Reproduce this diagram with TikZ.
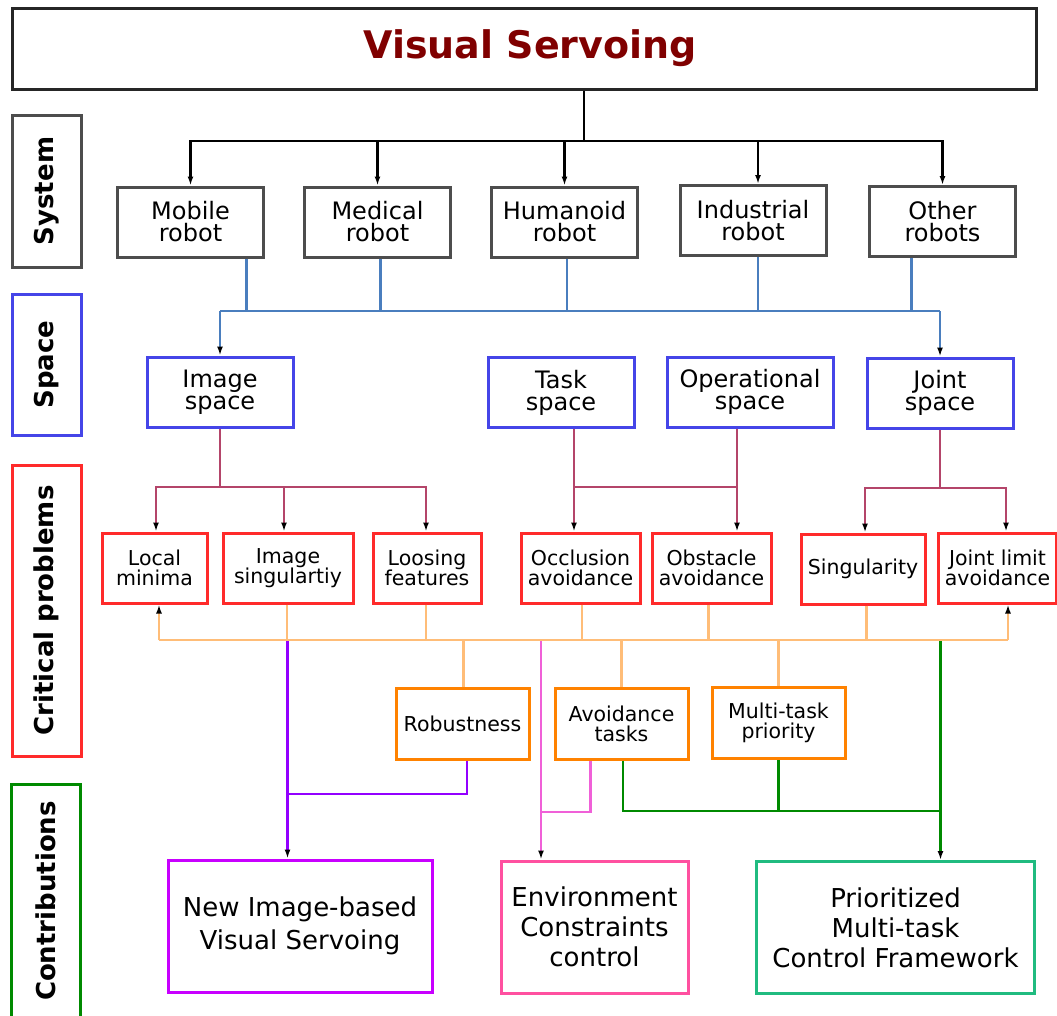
\documentclass[tikz,border=0pt]{standalone}
\usepackage{fontspec}
\setmainfont{DejaVu Sans}
\usetikzlibrary{arrows.meta}
\definecolor{titlered}{HTML}{800000}
\definecolor{sysgray}{HTML}{4D4D4D}
\definecolor{spblue}{HTML}{4545E8}
\definecolor{lnblue}{HTML}{4A7EBE}
\definecolor{lnred}{HTML}{B4456A}
\definecolor{cpred}{HTML}{FF2A2A}
\definecolor{lnorange}{HTML}{FFBD78}
\definecolor{bxorange}{HTML}{FF8200}
\definecolor{lnpurple}{HTML}{9300FF}
\definecolor{bxpurple}{HTML}{C800FF}
\definecolor{lnpink}{HTML}{F060D8}
\definecolor{bxpink}{HTML}{FF50A0}
\definecolor{lngreen}{HTML}{008A00}
\definecolor{bxgreen}{HTML}{20BB80}
\tikzset{
  box/.style={draw, fill=white, line width=3pt, align=center, inner sep=0pt, text=black},
  sidelab/.style={box, rotate=90, minimum height=69pt, font=\fontsize{26}{30}\selectfont\bfseries},
  robotbox/.style={box, draw=sysgray, minimum width=146pt, minimum height=70pt, font=\fontsize{24}{22}\selectfont},
  spacebox/.style={box, draw=spblue, minimum height=70pt, font=\fontsize{24}{22}\selectfont},
  probbox/.style={box, draw=cpred, minimum height=70pt, font=\fontsize{20.5}{20}\selectfont},
  featbox/.style={box, draw=bxorange, minimum height=71pt, font=\fontsize{20.5}{20}\selectfont},
  contbox/.style={box, minimum height=132pt, font=\fontsize{26}{30}\selectfont},
  tip/.style={-{Latex[length=9pt,width=6pt,black]}},
  cblack/.style={draw=black, line width=2.8pt},
  cblue/.style={draw=lnblue, line width=2.8pt},
  cred/.style={draw=lnred, line width=2.8pt},
  corange/.style={draw=lnorange, line width=2.8pt},
  cpurple/.style={draw=lnpurple, line width=2.8pt},
  cpink/.style={draw=lnpink, line width=2.8pt},
  cgreen/.style={draw=lngreen, line width=2.8pt},
}
\begin{document}
\begin{tikzpicture}[x=1pt, y=-1pt]
\useasboundingbox[fill=white] (0,0) rectangle (1057,1015);

% title
\node[box, draw=black!85, minimum width=1024pt, minimum height=81pt,
      font=\fontsize{38}{40}\selectfont\bfseries, text=titlered] (title) at (524,48.5) {\hspace*{12pt}Visual Servoing};

% side labels
\node[sidelab, draw=sysgray, minimum width=152pt] (lsys) at (47,191) {System};
\node[sidelab, draw=spblue, minimum width=141pt] (lspace) at (46.5,364.5) {Space};
\node[sidelab, draw=cpred, minimum width=291pt] (lcrit) at (46.5,610.5) {Critical problems};
\node[sidelab, draw=lngreen, minimum width=234pt] (lcont) at (45.5,901) {Contributions};

% robots
\node[robotbox] (mobile) at (190.5,222) {Mobile\\robot};
\node[robotbox] (medical) at (377.5,222) {Medical\\robot};
\node[robotbox] (humanoid) at (564.5,222) {Humanoid\\robot};
\node[robotbox] (industrial) at (753,220.5) {Industrial\\robot};
\node[robotbox] (other) at (942.5,221.5) {Other\\robots};

% spaces
\node[spacebox, minimum width=146pt] (image) at (220,392) {Image\\space};
\node[spacebox, minimum width=146pt] (task) at (561,392.5) {Task\\space};
\node[spacebox, minimum width=166pt] (oper) at (750,392) {Operational\\space};
\node[spacebox, minimum width=146pt] (joint) at (940,393) {Joint\\space};

% problems
\node[probbox, minimum width=105pt] (localmin) at (154.5,568) {Local\\minima};
\node[probbox, minimum width=130pt] (imgsing) at (288,568) {Image\\singulartiy};
\node[probbox, minimum width=108pt] (loosing) at (427,568) {Loosing\\features};
\node[probbox, minimum width=119pt] (occl) at (580.5,568) {Occlusion\\avoidance};
\node[probbox, minimum width=119pt] (obst) at (711.5,568) {Obstacle\\avoidance};
\node[probbox, minimum width=124pt] (sing) at (863,569) {Singularity};
\node[probbox, minimum width=118pt] (jlimit) at (997.5,568) {Joint limit\\avoidance};

% features
\node[featbox, minimum width=133pt] (robust) at (462.5,723.5) {Robustness};
\node[featbox, minimum width=133pt] (avoid) at (621.5,723.5) {Avoidance\\tasks};
\node[featbox, minimum width=133pt] (multi) at (778.5,723) {Multi-task\\priority};

% contributions
\node[contbox, draw=bxpurple, minimum width=264pt, font=\fontsize{26}{33}\selectfont] (newivs) at (300,926) {New Image-based\\Visual Servoing};
\node[contbox, draw=bxpink, minimum width=187pt] (env) at (594.5,927) {Environment\\Constraints\\control};
\node[contbox, draw=bxgreen, minimum width=278pt] (prior) at (895.5,927.5) {Prioritized\\Multi-task\\Control Framework};

% ---- black tree
\coordinate (kbus) at (584,141);
\draw[cblack] ([xshift=60pt]title.south) -- (kbus);
\draw[cblack, tip] (kbus) -| (mobile.north);
\draw[cblack, tip] (kbus) -| (medical.north);
\draw[cblack, tip] (kbus) -| (humanoid.north);
\draw[cblack, tip] (kbus) -| ([xshift=5pt]industrial.north);
\draw[cblack, tip] (kbus) -| (other.north);

% ---- blue tree
\coordinate (bL) at (220,311);
\coordinate (bR) at (940,311);
\draw[cblue] (bL) -- (bR);
\draw[cblue] ([xshift=56pt]mobile.south) |- (bR);
\draw[cblue] ([xshift=3pt]medical.south) |- (bR);
\draw[cblue] ([xshift=2.5pt]humanoid.south) |- (bR);
\draw[cblue] ([xshift=5pt]industrial.south) |- (bR);
\draw[cblue] ([xshift=-31pt]other.south) |- (bR);
\draw[cblue, tip] (bL) -- (image.north);
\draw[cblue, tip] (bR) -- (joint.north);

% ---- red trees
\coordinate (r1) at (220,487);
\draw[cred] (image.south) -- (r1);
\draw[cred, tip] (r1) -| ([xshift=1.5pt]localmin.north);
\draw[cred, tip] (r1) -| ([xshift=-4pt]imgsing.north);
\draw[cred, tip] (r1) -| ([xshift=-1pt]loosing.north);

\coordinate (r2a) at (574,487);
\coordinate (r2b) at (737,487);
\draw[cred, tip] ([xshift=13pt]task.south) -- ([xshift=-6.5pt]occl.north);
\draw[cred, tip] ([xshift=-13pt]oper.south) -- ([xshift=25.5pt]obst.north);
\draw[cred] (r2a) -- (r2b);

\coordinate (r3) at (940,488);
\draw[cred] (joint.south) -- (r3);
\draw[cred, tip] (r3) -| ([xshift=2pt]sing.north);
\draw[cred, tip] (r3) -| ([xshift=8.5pt]jlimit.north);

% ---- orange bus
\coordinate (oL) at (159,640);
\coordinate (oR) at (1008,640);
\draw[corange] (oL) -- (oR);
\draw[corange, tip] (oL) -- (oL |- localmin.south);
\draw[corange, tip] (oR) -- (oR |- jlimit.south);
\draw[corange] ([xshift=-1pt]imgsing.south) -- ([xshift=-1pt]imgsing.south |- oL);
\draw[corange] ([xshift=-1pt]loosing.south) -- ([xshift=-1pt]loosing.south |- oL);
\draw[corange] ([xshift=1.5pt]occl.south) -- ([xshift=1.5pt]occl.south |- oL);
\draw[corange] ([xshift=-3pt]obst.south) -- ([xshift=-3pt]obst.south |- oL);
\draw[corange] ([xshift=3.5pt]sing.south) -- ([xshift=3.5pt]sing.south |- oL);
\draw[corange] ([xshift=1pt]robust.north) -- ([xshift=1pt]robust.north |- oL);
\draw[corange] (avoid.north) -- (avoid.north |- oL);
\draw[corange] (multi.north) -- (multi.north |- oL);

% ---- purple
\coordinate (pTop) at (287.5,641);
\coordinate (pJ) at (287.5,794);
\draw[cpurple, tip] (pTop) -- ([xshift=-12.5pt]newivs.north);
\draw[cpurple] ([xshift=4.5pt]robust.south) |- (pJ);

% ---- pink
\coordinate (kTop) at (541,641);
\coordinate (kJ) at (541,812);
\draw[cpink, tip] (kTop) -- ([xshift=-53.5pt]env.north);
\draw[cpink] ([xshift=-31pt]avoid.south) |- (kJ);

% ---- green
\coordinate (gTop) at (940.5,641);
\coordinate (gJ) at (940.5,811);
\draw[cgreen, tip] (gTop) -- ([xshift=45pt]prior.north);
\draw[cgreen] ([xshift=1.5pt]avoid.south) |- (gJ);
\draw[cgreen] (multi.south) -- (multi.south |- gJ);
\end{tikzpicture}
\end{document}
